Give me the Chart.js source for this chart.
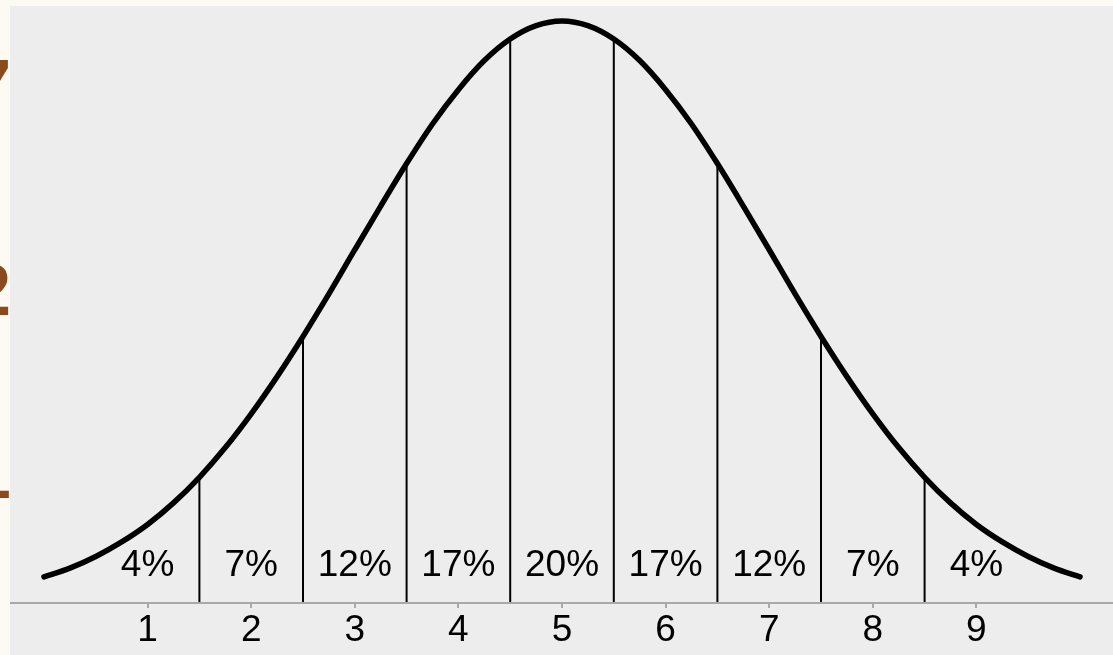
<!DOCTYPE html>
<html>
<head>
<meta charset="utf-8">
<script src="https://cdn.jsdelivr.net/npm/chart.js@4.4.1/dist/chart.umd.min.js"></script>
<style>
  html, body { margin: 0; padding: 0; background: #fdfaf3; overflow: hidden; }
  #wrap { position: absolute; left: 10px; top: 6px; width: 1103px; height: 649px; background: #ecedec; }
  .edge { position: absolute; right: 1102px; font: bold 72px "Liberation Sans", Arial, sans-serif; color: #8b4a1e; line-height: 1; }
</style>
</head>
<body>
<div class="edge" style="top:49px;">7</div>
<div class="edge" style="top:254px;">2</div>
<div class="edge" style="top:453px;">–</div>
<div id="wrap"><canvas id="chart" width="1103" height="649"></canvas></div>
<script>
'use strict';

// stanine curve (peak = 100)
var curveX = [0, 0.25, 0.5, 0.75, 1, 1.25, 1.5, 1.75, 2, 2.25, 2.5, 2.75, 3, 3.25, 3.5, 3.75, 4, 4.25, 4.5, 4.75, 5,
  5.25, 5.5, 5.75, 6, 6.25, 6.5, 6.75, 7, 7.25, 7.5, 7.75, 8, 8.25, 8.5, 8.75, 9, 9.25, 9.5, 9.75, 10];
var curveY = [4.5, 6.0, 8.0, 10.5, 13.5, 17.2, 21.6, 26.7, 32.5, 38.9, 45.8, 53.1, 60.7, 68.2, 75.5, 82.3, 88.2, 93.2, 96.9, 99.2, 100,
  99.2, 96.9, 93.2, 88.2, 82.3, 75.5, 68.2, 60.7, 53.1, 45.8, 38.9, 32.5, 26.7, 21.6, 17.2, 13.5, 10.5, 8.0, 6.0, 4.5];

// band edges and percentages
var dividers = [1.5, 2.5, 3.5, 4.5, 5.5, 6.5, 7.5, 8.5];
var stanines = [1, 2, 3, 4, 5, 6, 7, 8, 9];
var percents = ['4%', '7%', '12%', '17%', '20%', '17%', '12%', '7%', '4%'];

var FONT = '"Liberation Sans", Arial, sans-serif';

function heightAt(x) {
  var i = curveX.indexOf(x);
  return curveY[i];
}

var datasets = [{
  data: curveX.map(function (x, i) { return { x: x, y: curveY[i] }; }),
  showLine: true,
  borderColor: '#000',
  borderWidth: 5.5,
  borderCapStyle: 'round',
  pointRadius: 0,
  cubicInterpolationMode: 'monotone',
  clip: false
}];

dividers.forEach(function (d) {
  datasets.push({
    data: [{ x: d, y: 0 }, { x: d, y: heightAt(d) }],
    showLine: true,
    borderColor: '#000',
    borderWidth: 2,
    pointRadius: 0,
    clip: false
  });
});

var extras = {
  id: 'extras',
  afterDraw: function (chart) {
    var ctx = chart.ctx,
      xs = chart.scales.x,
      ys = chart.scales.y,
      base = chart.chartArea.bottom;
    ctx.save();
    // axis line over the full panel width
    ctx.strokeStyle = '#a9a9a9';
    ctx.lineWidth = 2;
    ctx.beginPath();
    ctx.moveTo(0, base);
    ctx.lineTo(chart.width, base);
    ctx.stroke();
    // band percentages
    ctx.fillStyle = '#000';
    ctx.font = '37px ' + FONT;
    ctx.textAlign = 'center';
    ctx.textBaseline = 'middle';
    stanines.forEach(function (s, i) {
      ctx.fillText(percents[i], xs.getPixelForValue(s), ys.getPixelForValue(6.4));
    });
    ctx.restore();
  }
};

new Chart(document.getElementById('chart'), {
  type: 'scatter',
  data: { datasets: datasets },
  options: {
    responsive: false,
    animation: false,
    events: [],
    layout: { padding: { left: 34, right: 33, top: 15, bottom: 0 } },
    plugins: { legend: { display: false }, tooltip: { enabled: false } },
    scales: {
      x: {
        type: 'linear',
        min: 0,
        max: 10,
        afterBuildTicks: function (scale) {
          scale.ticks = stanines.map(function (v) { return { value: v }; });
        },
        afterFit: function (scale) { scale.height = 52; },
        border: { display: false },
        grid: { drawOnChartArea: false, drawTicks: true, tickLength: 5, color: '#a9a9a9', lineWidth: 2 },
        ticks: { color: '#000', font: { family: FONT, size: 37 }, padding: 1, maxRotation: 0 }
      },
      y: {
        display: false,
        min: 0,
        max: 100
      }
    }
  },
  plugins: [extras]
});
</script>
</body>
</html>
